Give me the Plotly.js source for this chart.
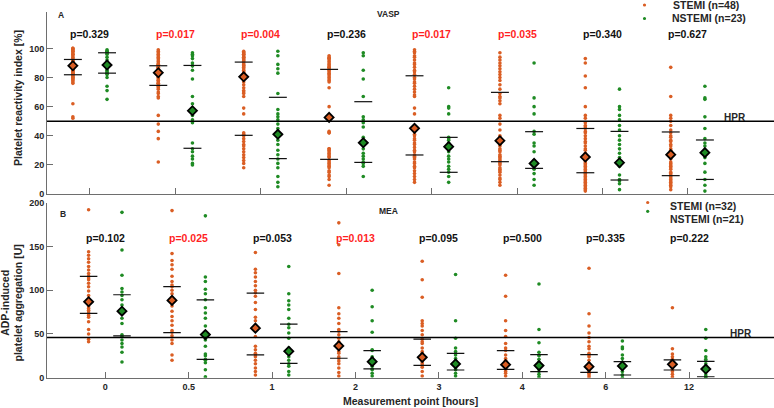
<!DOCTYPE html>
<html><head><meta charset="utf-8">
<script src="https://cdn.plot.ly/plotly-3.0.1.min.js"></script>
<style>html,body{margin:0;padding:0;background:#fff}#chart{width:774px;height:408px}</style>
</head><body><div id="chart"></div>
<script>
// ---------- DATA ----------
const timeLabels = ["0","0.5","1","2","3","4","6","12"];

// Panel A: VASP, platelet reactivity index [%]
const vaspStemi = [
  [100,100,99,99,98,98,97,96,96,95,94,93,92,92,91,91,90,90,89,89,89,88,88,88,87,87,86,86,85,85,84,84,83,83,82,82,81,81,80,80,79,79,78,77,76,62,53,52],
  [99,98,97,96,95,94,93,92,91,90,89,89,88,88,87,87,86,86,85,85,84,84,84,83,83,82,81,80,80,79,78,78,77,76,76,75,74,73,72,70,69,67,66,54,48,43,38,22],
  [98,97,97,96,96,95,94,94,93,92,92,91,90,89,88,88,87,86,85,84,83,83,82,81,79,77,75,73,71,70,69,67,59,55,42,41,40,38,36,34,33,31,29,27,25,23,21,18],
  [95,94,93,93,92,91,90,89,88,87,87,86,85,84,83,82,81,80,79,78,77,73,60,54,52,43,42,42,31,31,30,29,28,27,26,25,23,22,21,20,19,18,16,15,13,12,10,6],
  [99,98,97,95,94,92,90,89,87,85,84,82,80,79,77,76,74,72,70,68,67,59,55,47,45,43,41,40,38,37,35,34,32,30,29,27,26,25,24,22,21,19,18,16,14,12,10,8],
  [97,94,92,90,88,86,84,82,80,78,75,72,69,67,66,64,62,54,52,48,44,40,39,37,36,35,34,33,31,30,29,27,26,25,24,23,22,21,20,18,17,16,15,13,11,10,8,6],
  [93,90,81,73,60,54,52,49,47,46,45,43,42,40,38,36,35,33,31,30,28,27,26,25,24,23,22,21,20,19,18,17,16,15,14,13,12,11,10,9,8,7,6,5,4,3,2],
  [87,67,54,52,50,47,44,42,40,39,37,36,34,33,31,30,29,28,26,25,24,22,21,20,19,18,17,15,14,13,12,11,10,9,8,7,6,5,3]
];
const vaspNstemi = [
  [99,98,98,97,97,96,94,92,90,89,89,88,87,86,85,84,83,83,82,80,74,71,65],
  [97,96,95,93,90,88,88,85,79,67,62,58,57,54,51,49,35,31,29,26,24,21,20],
  [98,95,89,86,83,69,58,55,53,51,48,45,41,37,34,30,27,24,21,18,12,8,5],
  [97,95,85,79,67,53,51,49,46,39,37,35,34,31,28,26,24,22,21,19,12],
  [73,60,59,55,39,38,37,35,34,33,32,31,29,26,24,22,19,17,15,12,8],
  [90,66,60,55,43,41,35,33,29,23,22,21,21,20,19,17,14,10,6],
  [72,60,58,54,51,47,44,40,37,34,31,28,25,22,21,19,13,10,9,7,3],
  [74,66,65,53,45,38,35,33,30,29,28,27,25,21,15,10,6,2]
];
const vaspStemiMed = [88.1, 83.3, 80.5, 52.6, 45.1, 36.6, 25.4, 27.0];
const vaspStemiQ1  = [81.9, 74.6, 40.3, 23.8, 26.8, 22.2, 14.6, 12.6];
const vaspStemiQ3  = [92.4, 88.1, 90.6, 85.6, 81.2, 69.8, 45.0, 42.6];
const vaspNstemiMed = [88.6, 57.2, 41.0, 35.2, 32.5, 21.0, 21.5, 28.4];
const vaspNstemiQ1  = [83.0, 31.4, 24.3, 21.7, 14.9, 17.6, 9.6, 10.0];
const vaspNstemiQ3  = [97.0, 88.3, 66.4, 63.4, 38.9, 42.8, 43.0, 37.1];
const vaspP = [0.329, 0.017, 0.004, 0.236, 0.017, 0.035, 0.340, 0.627];
const vaspHPR = 50;

// Panel B: MEA, ADP-induced platelet aggregation [U]
const meaStemi = [
  [192,144,140,136,132,127,123,119,116,114,112,108,104,99,94,90,88,86,85,81,79,77,75,73,71,69,64,55,50,44,41],
  [191,142,134,129,124,116,110,106,104,100,96,92,90,88,86,82,76,70,65,60,54,52,48,43,39,26,20],
  [143,124,120,115,110,105,100,97,93,86,78,69,65,60,57,55,47,36,32,28,26,24,20,16,11,7,3],
  [177,152,119,80,73,68,62,55,53,49,45,41,38,36,34,30,28,24,22,19,16,11,6,2],
  [133,112,92,65,62,59,54,49,44,41,39,34,30,28,25,23,21,18,16,14,12,7,2],
  [117,93,65,54,47,39,34,31,26,22,20,17,15,14,13,11,10,9,7,5,2],
  [125,73,59,51,46,41,36,33,28,26,24,20,16,14,13,12,10,9,7,6,5,3,1],
  [80,33,27,24,21,20,19,17,16,15,14,13,10,9,7,4,1]
];
const meaNstemi = [
  [189,146,117,102,98,94,89,83,78,76,74,68,62,49,47,43,39,35,29,18],
  [185,115,110,101,96,89,80,74,68,59,49,47,43,36,27,25,21,20,17,9,1],
  [127,96,88,83,78,68,61,57,51,45,34,31,30,28,24,20,16,13,7,3],
  [100,81,65,52,32,31,24,22,20,18,17,16,13,10,9,5,2],
  [118,65,45,34,30,28,26,22,20,17,16,15,13,10,9,5,2],
  [107,55,40,29,26,25,21,18,16,14,13,12,10,7,4,1],
  [42,35,33,26,22,18,15,14,13,11,7,3,3,0],
  [55,45,31,24,21,19,16,13,10,9,6,3,1,0]
];
const meaStemiMed = [86.8, 88.3, 56.6, 36.3, 23.3, 14.9, 12.6, 15.3];
const meaStemiQ1  = [73.4, 51.6, 26.0, 22.2, 14.1, 9.6, 6.1, 8.8];
const meaStemiQ3  = [115.8, 104.0, 96.7, 52.7, 44.0, 31.0, 26.4, 20.3];
const meaNstemiMed = [76.0, 49.3, 30.2, 18.3, 15.7, 13.8, 13.4, 9.9];
const meaNstemiQ1  = [47.8, 21.0, 16.4, 10.0, 8.8, 6.9, 3.1, 1.1];
const meaNstemiQ3  = [94.8, 89.0, 61.2, 31.0, 27.9, 26.4, 18.3, 18.7];
const meaP = [0.102, 0.025, 0.053, 0.013, 0.095, 0.500, 0.335, 0.222];
const meaHPR = 46;

const legendA = ["STEMI (n=48)", "NSTEMI (n=23)"];
const legendB = ["STEMI (n=32)", "NSTEMI (n=21)"];

// ---------- STYLE ----------
const W = 774, H = 408, ML = 47;
const FONT = "Liberation Sans, Arial, Helvetica, sans-serif";
const ORANGE = "#DA5E24", GREEN = "#1F8B24";
const AXC = "#6e6e6e", TXT = "#262626";
const OFF = 0.2, HALF = 0.105;
const PX = x => (x - ML) / (W - ML), PY = y => 1 - y / H;

function dots(data, off, color, xa, ya) {
  const x = [], y = [];
  data.forEach((col, i) => col.forEach(v => { x.push(i + off); y.push(v); }));
  return {type:"scatter", mode:"markers", x, y, xaxis:xa, yaxis:ya, hoverinfo:"skip",
    marker:{size:3.6, color, line:{width:0}}, showlegend:false};
}
function quart(q1, q3, off, xa, ya) {
  const x = [], y = [];
  q1.forEach((v, i) => {
    x.push(i + off - HALF, i + off + HALF, null); y.push(v, v, null);
    x.push(i + off - HALF, i + off + HALF, null); y.push(q3[i], q3[i], null);
  });
  return {type:"scatter", mode:"lines", x, y, xaxis:xa, yaxis:ya, hoverinfo:"skip",
    line:{color:"#111", width:1.2}, showlegend:false, connectgaps:false};
}
function meds(m, off, color, xa, ya) {
  return {type:"scatter", mode:"markers", x:m.map((v,i)=>i+off), y:m, xaxis:xa, yaxis:ya,
    hoverinfo:"skip", showlegend:false,
    marker:{symbol:"diamond", size:7, color, line:{color:"#000", width:1.8}}};
}

const idx = timeLabels.map((t,i)=>i);
const traces = [
  dots(vaspStemi, -OFF, ORANGE, "x2", "y2"),
  dots(vaspNstemi, OFF, GREEN, "x2", "y2"),
  dots(meaStemi, -OFF, ORANGE, "x", "y"),
  dots(meaNstemi, OFF, GREEN, "x", "y"),
  quart(vaspStemiQ1, vaspStemiQ3, -OFF, "x2", "y2"),
  quart(vaspNstemiQ1, vaspNstemiQ3, OFF, "x2", "y2"),
  quart(meaStemiQ1, meaStemiQ3, -OFF, "x", "y"),
  quart(meaNstemiQ1, meaNstemiQ3, OFF, "x", "y"),
  meds(vaspStemiMed, -OFF, ORANGE, "x2", "y2"),
  meds(vaspNstemiMed, OFF, GREEN, "x2", "y2"),
  meds(meaStemiMed, -OFF, ORANGE, "x", "y"),
  meds(meaNstemiMed, OFF, GREEN, "x", "y")
];

const axBase = {showgrid:false, zeroline:false, showline:true, linecolor:AXC, linewidth:1,
  ticks:"inside", ticklen:6, tickcolor:AXC, tickwidth:1, fixedrange:true,
  tickfont:{family:FONT, size:9, color:TXT}};
const bold = a => a.map(s => "<b>" + s + "</b>");

const annotations = [];
function ann(text, x, y, size, opts) {
  annotations.push(Object.assign({text:"<b>"+text+"</b>", xref:"paper", yref:"paper",
    x:PX(x), y:PY(y), xanchor:"center", yanchor:"middle", showarrow:false,
    font:{family:FONT, size, color:TXT}}, opts||{}));
}
// p-values
vaspP.forEach((p,i) => annotations.push({text:"<b>p="+p.toFixed(3)+"</b>", xref:"x2", yref:"y2",
  x:i, y:110, showarrow:false, xanchor:"center", yanchor:"middle",
  font:{family:FONT, size:10.5, color: p < 0.05 ? "#FF1F1F" : "#111"}}));
meaP.forEach((p,i) => annotations.push({text:"<b>p="+p.toFixed(3)+"</b>", xref:"x", yref:"y",
  x:i, y:160, showarrow:false, xanchor:"center", yanchor:"middle",
  font:{family:FONT, size:10.5, color: p < 0.05 ? "#FF1F1F" : "#111"}}));
// panel labels
ann("A", 60.5, 14.7, 8.5);
ann("VASP", 388, 14.5, 8.5);
ann("B", 62.5, 213.5, 8.5);
ann("MEA", 388, 211, 8.5);
// HPR
ann("HPR", 734.5, 117.5, 10);
ann("HPR", 741, 333.5, 10);
// legends
ann(legendA[0], 670.5, 5.5, 10.5, {xanchor:"left"});
ann(legendA[1], 670, 18.5, 10.5, {xanchor:"left"});
ann(legendB[0], 668.3, 205.7, 10.5, {xanchor:"left"});
ann(legendB[1], 668.3, 219, 10.5, {xanchor:"left"});
// axis titles
ann("Platelet reactivity index [%]", 18, 98, 10.5, {textangle:-90});
ann("ADP-induced<br><b>platelet aggregation [U]", 11.5, 303, 10.5, {textangle:-90});
ann("Measurement point [hours]", 410.5, 401, 10.5);

function dotShape(x, y, color) {
  const r = 1.6;
  return {type:"circle", xref:"paper", yref:"paper", x0:PX(x-r), x1:PX(x+r), y0:PY(y+r), y1:PY(y-r),
    fillcolor:color, line:{width:0}};
}
const shapes = [
  {type:"line", xref:"x2 domain", yref:"y2", x0:0, x1:1, y0:vaspHPR, y1:vaspHPR, line:{color:"#000", width:1.5}},
  {type:"line", xref:"x domain", yref:"y", x0:0, x1:1, y0:meaHPR, y1:meaHPR, line:{color:"#000", width:1.5}},
  dotShape(644.5, 5, ORANGE), dotShape(644.5, 18.5, GREEN),
  dotShape(647.7, 202.5, ORANGE), dotShape(647.7, 211.3, GREEN)
];

const layout = {
  width:W, height:H, margin:{l:ML, r:0, t:0, b:0},
  paper_bgcolor:"#fff", plot_bgcolor:"rgba(0,0,0,0)", showlegend:false,
  font:{family:FONT, color:TXT},
  xaxis: Object.assign({}, axBase, {domain:[0,1], anchor:"y", range:[-0.699, 8.018],
    tickvals:idx, ticktext:bold(timeLabels)}),
  yaxis: Object.assign({}, axBase, {domain:[1-377.7/H, 1-202.7/H], anchor:"x", range:[0,200],
    tickvals:[0,50,100,150,200], ticktext:bold(["0","50","100","150","200"])}),
  xaxis2: Object.assign({}, axBase, {domain:[0,1], anchor:"y2", range:[-0.503, 8.009],
    tickvals:idx, showticklabels:false}),
  yaxis2: Object.assign({}, axBase, {domain:[1-194/H, 1-12/H], anchor:"x2", range:[0,125],
    tickvals:[0,20,40,60,80,100], ticktext:bold(["0","20","40","60","80","100"])}),
  annotations, shapes
};
Plotly.newPlot("chart", traces, layout, {staticPlot:true, displayModeBar:false});
</script>
</body></html>
